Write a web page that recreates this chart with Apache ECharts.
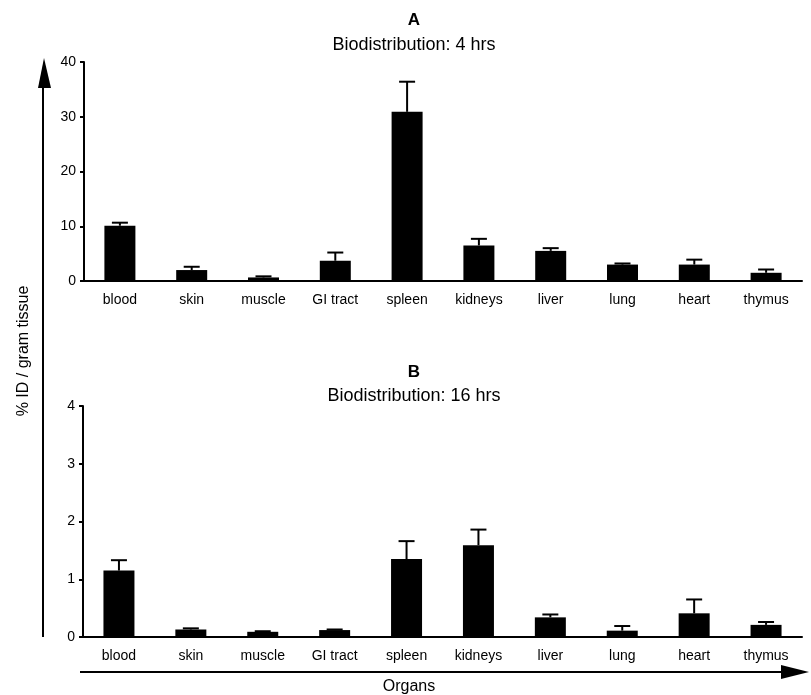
<!DOCTYPE html>
<html>
<head>
<meta charset="utf-8">
<script src="https://cdn.jsdelivr.net/npm/echarts@6/dist/echarts.min.js"></script>
<style>
html,body{margin:0;padding:0;background:#fff;}
#chart{width:811px;height:695px;}
</style>
</head>
<body>
<div id="chart"></div>
<script>
// ---- data ----
var categories = ['blood', 'skin', 'muscle', 'GI tract', 'spleen', 'kidneys', 'liver', 'lung', 'heart', 'thymus'];
var mean4h = [10.1, 2.0, 0.65, 3.7, 30.9, 6.5, 5.5, 3.0, 3.0, 1.5];
var err4h = [0.55, 0.6, 0.2, 1.5, 5.5, 1.2, 0.5, 0.2, 0.9, 0.6];
var mean16h = [1.15, 0.13, 0.09, 0.12, 1.35, 1.59, 0.34, 0.11, 0.41, 0.21];
var err16h = [0.18, 0.02, 0.01, 0.01, 0.31, 0.27, 0.05, 0.08, 0.24, 0.05];
var yTicks4h = { min: 0, max: 40, interval: 10 };
var yTicks16h = { min: 0, max: 4, interval: 1 };

var FONT = '"Liberation Sans", Arial, Helvetica, sans-serif';

function errData(means, errs) {
  return means.map(function (m, i) { return [i, m, m + errs[i]]; });
}
function errRender(params, api) {
  var x = api.value(0);
  var p0 = api.coord([x, api.value(1)]);
  var p1 = api.coord([x, api.value(2)]);
  var cw = 8;
  return {
    type: 'group',
    children: [
      { type: 'line', shape: { x1: p0[0], y1: p0[1], x2: p1[0], y2: p1[1] }, style: { stroke: '#000', lineWidth: 2 } },
      { type: 'line', shape: { x1: p1[0] - cw, y1: p1[1], x2: p1[0] + cw, y2: p1[1] }, style: { stroke: '#000', lineWidth: 2 } }
    ]
  };
}

function xAxisDef(gi) {
  return {
    type: 'category', gridIndex: gi, data: categories,
    axisLine: { lineStyle: { color: '#000', width: 2 } },
    axisTick: { show: false },
    axisLabel: { color: '#000', fontSize: 14, fontFamily: FONT, margin: 12, interval: 0 }
  };
}
function yAxisDef(gi, t) {
  return {
    type: 'value', gridIndex: gi, min: t.min, max: t.max, interval: t.interval,
    axisLine: { show: true, lineStyle: { color: '#000', width: 2 } },
    axisTick: { show: true, length: 4, lineStyle: { color: '#000', width: 2 } },
    axisLabel: { color: '#000', fontSize: 14, fontFamily: FONT, margin: 8 },
    splitLine: { show: false }
  };
}

var chart = echarts.init(document.getElementById('chart'), null, { renderer: 'canvas' });
chart.setOption({
  animation: false,
  backgroundColor: '#fff',
  title: [
    { text: 'A', left: 409, top: 7, textAlign: 'center', textStyle: { fontSize: 17, fontWeight: 'bold', color: '#000', fontFamily: FONT } },
    { text: 'Biodistribution: 4 hrs', left: 409, top: 31, textAlign: 'center', textStyle: { fontSize: 18, fontWeight: 'normal', color: '#000', fontFamily: FONT } },
    { text: 'B', left: 409, top: 359, textAlign: 'center', textStyle: { fontSize: 17, fontWeight: 'bold', color: '#000', fontFamily: FONT } },
    { text: 'Biodistribution: 16 hrs', left: 409, top: 382, textAlign: 'center', textStyle: { fontSize: 18, fontWeight: 'normal', color: '#000', fontFamily: FONT } }
  ],
  grid: [
    { left: 84, right: 9, top: 62, height: 219 },
    { left: 83, right: 9, top: 406, height: 231 }
  ],
  xAxis: [xAxisDef(0), xAxisDef(1)],
  yAxis: [yAxisDef(0, yTicks4h), yAxisDef(1, yTicks16h)],
  series: [
    { type: 'bar', xAxisIndex: 0, yAxisIndex: 0, data: mean4h, barWidth: 31, itemStyle: { color: '#000' } },
    { type: 'custom', xAxisIndex: 0, yAxisIndex: 0, data: errData(mean4h, err4h), renderItem: errRender, z: 3 },
    { type: 'bar', xAxisIndex: 1, yAxisIndex: 1, data: mean16h, barWidth: 31, itemStyle: { color: '#000' } },
    { type: 'custom', xAxisIndex: 1, yAxisIndex: 1, data: errData(mean16h, err16h), renderItem: errRender, z: 3 }
  ],
  graphic: [
    { type: 'line', shape: { x1: 43, y1: 637, x2: 43, y2: 80 }, style: { stroke: '#000', lineWidth: 2 } },
    { type: 'polygon', shape: { points: [[44, 58], [38, 88], [51, 88]] }, style: { fill: '#000' } },
    { type: 'line', shape: { x1: 80, y1: 672, x2: 786, y2: 672 }, style: { stroke: '#000', lineWidth: 2 } },
    { type: 'polygon', shape: { points: [[809, 672], [781, 665], [781, 679]] }, style: { fill: '#000' } },
    { type: 'text', x: 24, y: 351, rotation: Math.PI / 2, style: { text: '% ID / gram tissue', fill: '#000', font: '16px ' + FONT, textAlign: 'center', textVerticalAlign: 'middle' } },
    { type: 'text', x: 409, y: 687, style: { text: 'Organs', fill: '#000', font: '16px ' + FONT, textAlign: 'center', textVerticalAlign: 'middle' } }
  ]
});
</script>
</body>
</html>
